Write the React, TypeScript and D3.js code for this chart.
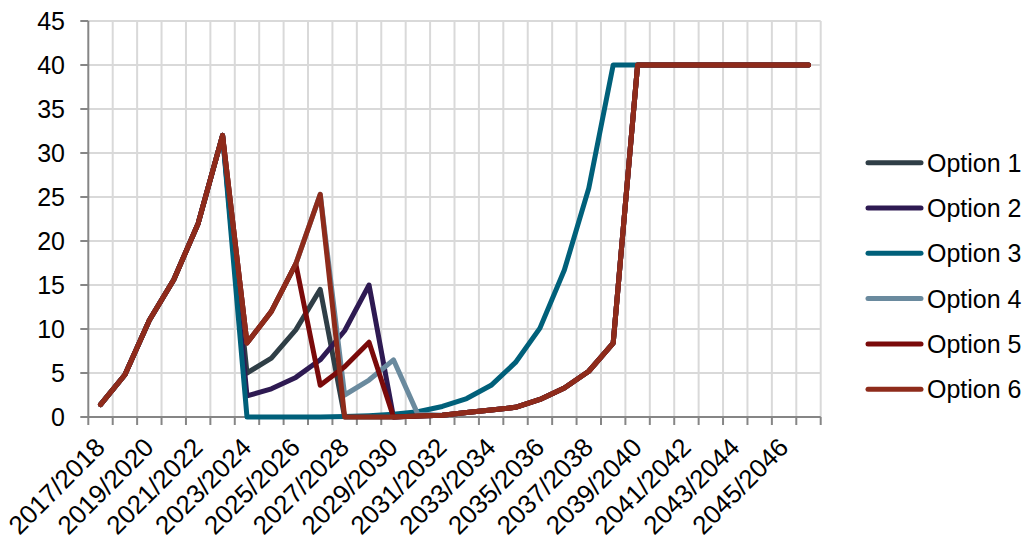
import React from "react";
import * as d3 from "d3";

// Fiscal-year categories along the x axis
const categories: string[] = [
  "2017/2018", "2018/2019", "2019/2020", "2020/2021", "2021/2022", "2022/2023",
  "2023/2024", "2024/2025", "2025/2026", "2026/2027", "2027/2028", "2028/2029",
  "2029/2030", "2030/2031", "2031/2032", "2032/2033", "2033/2034", "2034/2035",
  "2035/2036", "2036/2037", "2037/2038", "2038/2039", "2039/2040", "2040/2041",
  "2041/2042", "2042/2043", "2043/2044", "2044/2045", "2045/2046", "2046/2047",
];

// Every other category carries a tick label
const tickLabels: string[] = categories.filter((_, i) => i % 2 === 0);

const yTicks: number[] = [0, 5, 10, 15, 20, 25, 30, 35, 40, 45];

const option1: number[] = [1.4, 4.8, 11.0, 15.6, 22.0, 32.0, 5.0, 6.7, 9.9, 14.5, 0, 0, 0, 0.1, 0.2, 0.5, 0.8, 1.1, 2.0, 3.3, 5.2, 8.4, 40, 40, 40, 40, 40, 40, 40, 40];
const option2: number[] = [1.4, 4.8, 11.0, 15.6, 22.0, 32.0, 2.4, 3.2, 4.5, 6.5, 9.8, 15.0, 0, 0.1, 0.2, 0.5, 0.8, 1.1, 2.0, 3.3, 5.2, 8.4, 40, 40, 40, 40, 40, 40, 40, 40];
const option3: number[] = [1.4, 4.8, 11.0, 15.6, 22.0, 32.0, 0, 0, 0, 0, 0.05, 0.15, 0.3, 0.6, 1.2, 2.1, 3.6, 6.2, 10.1, 16.7, 26.0, 40, 40, 40, 40, 40, 40, 40, 40, 40];
const option4: number[] = [1.4, 4.8, 11.0, 15.6, 22.0, 32.0, 8.4, 12.0, 17.4, 25.3, 2.5, 4.2, 6.5, 0.3, 0.2, 0.5, 0.8, 1.1, 2.0, 3.3, 5.2, 8.4, 40, 40, 40, 40, 40, 40, 40, 40];
const option5: number[] = [1.4, 4.8, 11.0, 15.6, 22.0, 32.0, 8.4, 12.0, 17.4, 3.6, 5.7, 8.5, 0, 0.1, 0.2, 0.5, 0.8, 1.1, 2.0, 3.3, 5.2, 8.4, 40, 40, 40, 40, 40, 40, 40, 40];
const option6: number[] = [1.4, 4.8, 11.0, 15.6, 22.0, 32.0, 8.4, 12.0, 17.4, 25.3, 0, 0, 0, 0.1, 0.2, 0.5, 0.8, 1.1, 2.0, 3.3, 5.2, 8.4, 40, 40, 40, 40, 40, 40, 40, 40];

const seriesNames: string[] = ["Option 1", "Option 2", "Option 3", "Option 4", "Option 5", "Option 6"];
const seriesColors: string[] = ["#2f3e46", "#2e1a52", "#00607a", "#6a8a9e", "#7a0a0a", "#8e2b1b"];
const seriesValues: number[][] = [option1, option2, option3, option4, option5, option6];

const W = 1029;
const H = 543;
const plot = { left: 88.3, right: 820.7, top: 21, bottom: 417 };
const FONT = "Liberation Sans, Arial, sans-serif";

export default function App() {
  const x = d3
    .scaleBand<string>()
    .domain(categories)
    .range([plot.left, plot.right])
    .paddingInner(0)
    .paddingOuter(0);
  const y = d3.scaleLinear().domain([0, 45]).range([plot.bottom, plot.top]);
  const bw = x.bandwidth();
  const cx = (c: string) => (x(c) as number) + bw / 2;

  const line = d3
    .line<number>()
    .x((_, i) => cx(categories[i]))
    .y((v) => y(v));

  const boundaries = d3.range(categories.length + 1).map((i) => plot.left + i * bw);

  return (
    <svg
      width={W}
      height={H}
      style={{ position: "absolute", left: 0, top: 0, display: "block", background: "#fff" }}
      fontFamily={FONT}
    >
      {/* gridlines */}
      <g stroke="#d9d9d9" strokeWidth={2}>
        {boundaries.slice(1).map((bx, i) => (
          <line key={"v" + i} x1={bx} x2={bx} y1={plot.top} y2={plot.bottom} />
        ))}
        {yTicks.slice(1).map((t) => (
          <line key={"h" + t} x1={plot.left} x2={plot.right} y1={y(t)} y2={y(t)} />
        ))}
      </g>

      {/* axes */}
      <g stroke="#868686" strokeWidth={2}>
        <line x1={plot.left} x2={plot.left} y1={plot.top} y2={plot.bottom} />
        <line x1={plot.left} x2={plot.right} y1={plot.bottom} y2={plot.bottom} />
        {yTicks.map((t) => (
          <line key={"yt" + t} x1={plot.left - 8} x2={plot.left} y1={y(t)} y2={y(t)} />
        ))}
        {boundaries.map((bx, i) => (
          <line key={"xt" + i} x1={bx} x2={bx} y1={plot.bottom} y2={plot.bottom + 8} />
        ))}
      </g>

      {/* y tick labels */}
      <g fontSize={25} fill="#000" textAnchor="end">
        {yTicks.map((t) => (
          <text key={"yl" + t} x={65} y={y(t) + 9}>
            {t}
          </text>
        ))}
      </g>

      {/* x tick labels */}
      <g fontSize={26} fill="#000" textAnchor="end">
        {tickLabels.map((c) => (
          <text key={"xl" + c} transform={`translate(${cx(c) + 6},${449}) rotate(-45)`}>
            {c}
          </text>
        ))}
      </g>

      {/* series lines */}
      <g fill="none" strokeWidth={5} strokeLinejoin="round" strokeLinecap="round">
        {seriesValues.map((vals, k) => (
          <path key={seriesNames[k]} d={line(vals) as string} stroke={seriesColors[k]} />
        ))}
      </g>

      {/* legend */}
      <g>
        {seriesNames.map((name, k) => {
          const ly = 162.7 + k * 45.3;
          return (
            <g key={"lg" + name}>
              <line x1={868} x2={921} y1={ly} y2={ly} stroke={seriesColors[k]} strokeWidth={5} strokeLinecap="round" />
              <text x={927} y={ly + 9} fontSize={25} fill="#000">
                {name}
              </text>
            </g>
          );
        })}
      </g>
    </svg>
  );
}
